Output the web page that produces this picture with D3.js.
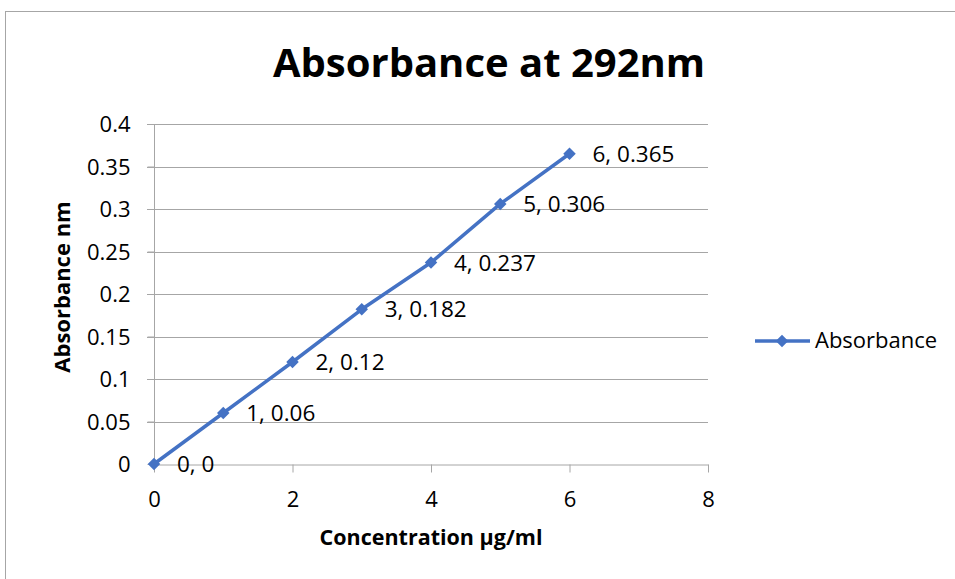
<!DOCTYPE html>
<html>
<head>
<meta charset="utf-8">
<script src="https://cdn.jsdelivr.net/npm/d3@7"></script>
<style>
  body { margin: 0; background: #fff; }
  svg { display: block; font-family: "Open Sans", sans-serif; }
  .grid line { stroke: #a6a6a6; stroke-width: 1; }
  .axis path, .axis line { stroke: #a6a6a6; }
  .axis text { fill: #000; font-size: 22px; font-family: "Open Sans", sans-serif; }
</style>
</head>
<body>
<div id="chart"></div>
<script>
// data
const concentration = [0, 1, 2, 3, 4, 5, 6];
const absorbance = [0, 0.06, 0.12, 0.182, 0.237, 0.306, 0.365];
const xTicks = [0, 2, 4, 6, 8];
const yTicks = [0, 0.05, 0.1, 0.15, 0.2, 0.25, 0.3, 0.35, 0.4];
const seriesName = "Absorbance";

const width = 955, height = 579;
const margin = {top: 124, right: 247, bottom: 115, left: 154};
const blue = "#4472c4";

const svg = d3.select("#chart").append("svg")
    .attr("width", width)
    .attr("height", height);

// outer chart frame
svg.append("rect")
    .attr("x", 5.5).attr("y", 11.5)
    .attr("width", 960).attr("height", 600)
    .attr("fill", "none").attr("stroke", "#a6a6a6");

const x = d3.scaleLinear().domain([0, 8]).range([margin.left, width - margin.right]);
const y = d3.scaleLinear().domain([0, 0.4]).range([height - margin.bottom, margin.top]);

// horizontal gridlines
svg.append("g").attr("class", "grid")
    .selectAll("line")
    .data(yTicks.slice(1))
    .join("line")
    .attr("x1", x(0) - 7).attr("x2", x(8))
    .attr("y1", d => Math.round(y(d)) + 0.5)
    .attr("y2", d => Math.round(y(d)) + 0.5);

// axes
const xAxis = svg.append("g").attr("class", "axis")
    .attr("transform", `translate(0,${Math.round(y(0)) + 0.5})`)
    .call(d3.axisBottom(x).tickValues(xTicks).tickSize(8).tickSizeOuter(0).tickFormat(d3.format("d")));
xAxis.selectAll("text").attr("y", 42).attr("dy", null);

const yAxis = svg.append("g").attr("class", "axis")
    .attr("transform", `translate(${Math.round(x(0)) + 0.5},0)`)
    .call(d3.axisLeft(y).tickValues(yTicks).tickSize(7).tickSizeOuter(0).tickFormat(d => String(d)));
yAxis.selectAll("text").attr("x", -24).attr("dy", "0.36em");
yAxis.select(".domain").attr("d", `M0,${y(0)}V${y(0.4)}`);

const points = concentration.map((c, i) => [c, absorbance[i]]);

// series line
svg.append("path")
    .datum(points)
    .attr("fill", "none")
    .attr("stroke", blue)
    .attr("stroke-width", 3.5)
    .attr("stroke-linejoin", "round")
    .attr("d", d3.line().x(d => x(d[0])).y(d => y(d[1])));

const diamond = d3.symbol().type(d3.symbolDiamond2).size(100);

svg.append("g")
    .selectAll("path")
    .data(points)
    .join("path")
    .attr("transform", d => `translate(${x(d[0])},${y(d[1])})`)
    .attr("d", diamond)
    .attr("fill", blue);

// data labels
svg.append("g")
    .selectAll("text")
    .data(points)
    .join("text")
    .attr("x", d => x(d[0]) + 23)
    .attr("y", d => y(d[1]) + 8)
    .attr("font-size", 22.5)
    .text(d => `${d[0]}, ${d[1]}`);

// title
svg.append("text")
    .attr("x", 489).attr("y", 77)
    .attr("text-anchor", "middle")
    .attr("font-size", 40)
    .attr("font-weight", "bold")
    .text("Absorbance at 292nm");

// axis titles
svg.append("text")
    .attr("x", 431).attr("y", 545)
    .attr("text-anchor", "middle")
    .attr("font-size", 21.5)
    .attr("font-weight", "bold")
    .text("Concentration µg/ml");

svg.append("text")
    .attr("transform", `translate(70,287) rotate(-90)`)
    .attr("text-anchor", "middle")
    .attr("font-size", 22)
    .attr("font-weight", "bold")
    .text("Absorbance nm");

// legend
const legend = svg.append("g").attr("transform", "translate(755,341)");
legend.append("line")
    .attr("x1", 0).attr("x2", 55)
    .attr("stroke", blue).attr("stroke-width", 3.5);
legend.append("path")
    .attr("transform", "translate(27,0)")
    .attr("d", diamond)
    .attr("fill", blue);
legend.append("text")
    .attr("x", 60).attr("y", 7)
    .attr("font-size", 22)
    .text(seriesName);
</script>
</body>
</html>
